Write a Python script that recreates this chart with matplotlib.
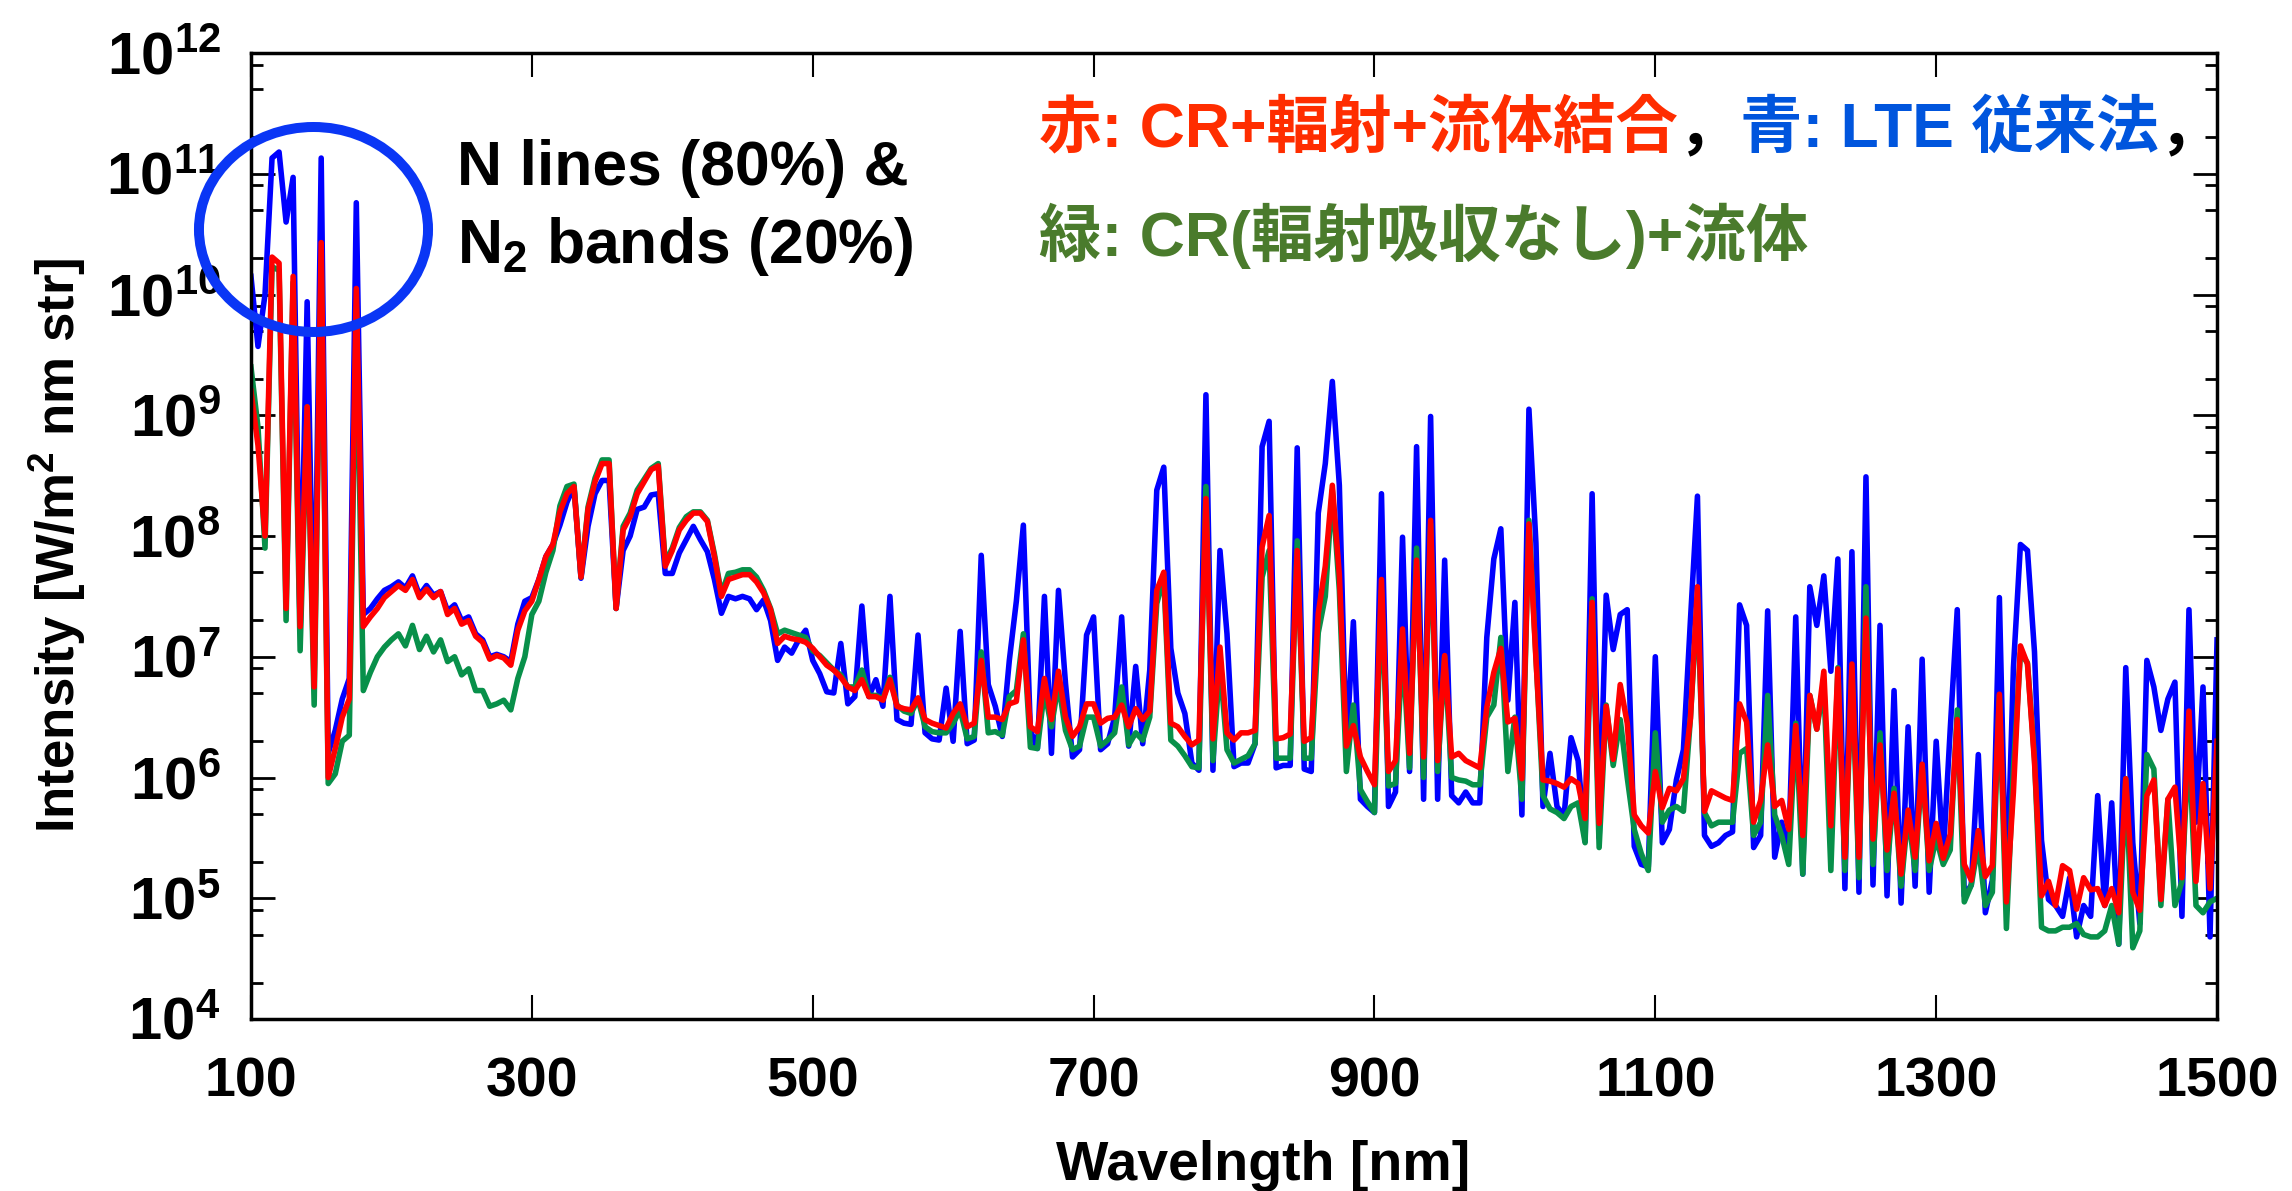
import numpy as np
import matplotlib
matplotlib.use("Agg")
import matplotlib.pyplot as plt
from matplotlib.patches import Ellipse
from matplotlib.ticker import LogLocator, NullLocator, NullFormatter, FuncFormatter

plt.rcParams['font.family'] = ['Liberation Sans', 'Noto Sans CJK JP', 'DejaVu Sans']
plt.rcParams['font.weight'] = 'bold'
plt.rcParams['mathtext.fontset'] = 'custom'
plt.rcParams['mathtext.rm'] = 'Liberation Sans:bold'
plt.rcParams['mathtext.bf'] = 'Liberation Sans:bold'
plt.rcParams['mathtext.it'] = 'Liberation Sans:bold'
plt.rcParams['mathtext.default'] = 'bf'

# wavelength grid [nm], one value every 5 nm
wavelength = np.arange(100, 1505, 5)

# log10 of intensity, 10 values (50 nm) per row
# blue: LTE (conventional)
lte_log = [
    10.15, 9.57, 10.00, 11.13, 11.18, 10.60, 10.97, 7.20, 9.94, 6.85,
    11.13, 6.20, 6.39, 6.65, 6.82, 10.76, 7.35, 7.40, 7.48, 7.55,
    7.58, 7.62, 7.57, 7.67, 7.51, 7.59, 7.51, 7.54, 7.38, 7.43,
    7.30, 7.33, 7.19, 7.14, 7.00, 7.02, 7.00, 6.96, 7.27, 7.46,
    7.49, 7.64, 7.83, 7.93, 8.09, 8.28, 8.41, 7.65, 8.08, 8.35,
    8.46, 8.46, 7.40, 7.88, 8.00, 8.22, 8.24, 8.34, 8.35, 7.69,
    7.69, 7.86, 7.97, 8.08, 7.97, 7.87, 7.64, 7.36, 7.50, 7.48,
    7.50, 7.48, 7.39, 7.47, 7.30, 6.97, 7.08, 7.03, 7.14, 7.22,
    6.97, 6.86, 6.71, 6.70, 7.11, 6.61, 6.67, 7.42, 6.67, 6.81,
    6.59, 7.50, 6.48, 6.45, 6.44, 7.18, 6.37, 6.32, 6.31, 6.74,
    6.30, 7.21, 6.28, 6.31, 7.84, 6.77, 6.59, 6.34, 6.97, 7.46,
    8.09, 6.39, 6.24, 7.50, 6.20, 7.55, 6.78, 6.17, 6.23, 7.18,
    7.33, 6.23, 6.28, 6.50, 7.33, 6.26, 6.92, 6.28, 6.89, 8.38,
    8.57, 7.07, 6.70, 6.53, 6.12, 6.06, 9.17, 6.06, 7.88, 7.19,
    6.09, 6.12, 6.12, 6.28, 8.74, 8.95, 6.08, 6.10, 6.10, 8.73,
    6.07, 6.05, 8.19, 8.60, 9.28, 8.42, 6.23, 7.29, 5.82, 5.76,
    5.71, 8.35, 5.76, 5.88, 7.99, 6.05, 8.74, 5.82, 8.99, 5.82,
    7.80, 5.85, 5.79, 5.88, 5.79, 5.79, 7.16, 7.81, 8.06, 6.64,
    7.45, 5.69, 9.05, 7.94, 5.76, 6.20, 5.76, 5.68, 6.33, 6.14,
    5.47, 8.35, 5.50, 7.51, 7.06, 7.35, 7.39, 5.43, 5.28, 5.26,
    7.00, 5.46, 5.57, 5.98, 6.23, 7.30, 8.33, 5.52, 5.43, 5.46,
    5.52, 5.55, 7.43, 7.26, 5.42, 5.52, 7.38, 5.34, 5.63, 5.40,
    7.33, 5.20, 7.58, 7.26, 7.67, 6.88, 7.81, 5.08, 7.87, 5.05,
    8.49, 5.11, 7.26, 5.02, 6.72, 4.96, 6.42, 5.10, 6.98, 5.05,
    6.30, 5.35, 6.40, 7.39, 5.02, 5.11, 6.19, 4.88, 5.15, 7.49,
    4.96, 6.91, 7.93, 7.88, 7.04, 5.48, 4.99, 4.94, 4.85, 5.17,
    4.68, 4.94, 4.85, 5.85, 4.94, 5.79, 4.62, 6.91, 5.46, 4.79,
    6.97, 6.75, 6.39, 6.65, 6.79, 4.85, 7.39, 5.63, 6.75, 4.68,
    7.14,
]

# red: CR + radiation + flow coupled
cr_log = [
    9.20, 8.75, 8.00, 10.31, 10.26, 7.40, 10.15, 7.25, 9.07, 6.75,
    10.43, 6.00, 6.24, 6.50, 6.65, 10.05, 7.25, 7.33, 7.40, 7.49,
    7.54, 7.59, 7.55, 7.64, 7.49, 7.56, 7.49, 7.54, 7.35, 7.40,
    7.27, 7.30, 7.17, 7.12, 6.98, 7.01, 6.99, 6.93, 7.22, 7.38,
    7.46, 7.64, 7.83, 7.93, 8.20, 8.35, 8.41, 7.66, 8.22, 8.45,
    8.60, 8.60, 7.40, 8.05, 8.16, 8.35, 8.45, 8.55, 8.58, 7.75,
    7.88, 8.05, 8.13, 8.19, 8.19, 8.12, 7.83, 7.50, 7.64, 7.66,
    7.68, 7.68, 7.62, 7.53, 7.39, 7.11, 7.17, 7.15, 7.14, 7.12,
    7.07, 7.00, 6.93, 6.89, 6.83, 6.75, 6.72, 6.81, 6.67, 6.67,
    6.64, 6.81, 6.59, 6.57, 6.56, 6.66, 6.48, 6.45, 6.43, 6.41,
    6.53, 6.61, 6.42, 6.45, 6.97, 6.50, 6.50, 6.48, 6.61, 6.63,
    7.14, 6.42, 6.38, 6.82, 6.48, 6.88, 6.50, 6.34, 6.42, 6.61,
    6.61, 6.45, 6.49, 6.50, 6.60, 6.42, 6.57, 6.48, 6.55, 7.55,
    7.70, 6.45, 6.42, 6.34, 6.27, 6.31, 8.31, 6.32, 7.08, 6.37,
    6.31, 6.37, 6.37, 6.39, 7.91, 8.17, 6.32, 6.33, 6.36, 7.88,
    6.30, 6.33, 7.36, 7.75, 8.42, 7.68, 6.26, 6.43, 6.17, 6.05,
    5.94, 7.64, 6.05, 6.14, 7.23, 6.20, 7.80, 6.17, 8.13, 6.14,
    7.01, 6.17, 6.20, 6.14, 6.11, 6.08, 6.58, 6.87, 7.07, 6.46,
    6.49, 5.99, 8.10, 6.98, 5.98, 5.97, 5.95, 5.92, 5.99, 5.95,
    5.66, 7.45, 5.62, 6.59, 6.15, 6.77, 6.45, 5.69, 5.60, 5.54,
    6.05, 5.75, 5.91, 5.89, 5.99, 6.49, 7.58, 5.72, 5.89, 5.86,
    5.83, 5.81, 6.61, 6.46, 5.63, 5.81, 6.27, 5.76, 5.81, 5.57,
    6.43, 5.52, 6.68, 6.40, 6.88, 5.60, 6.90, 5.34, 6.94, 5.34,
    7.32, 5.49, 6.27, 5.40, 5.87, 5.20, 5.73, 5.34, 6.11, 5.31,
    5.62, 5.33, 5.53, 6.48, 5.28, 5.15, 5.56, 5.18, 5.27, 6.69,
    4.97, 5.88, 7.09, 6.94, 6.13, 5.02, 5.14, 4.94, 5.27, 5.23,
    4.91, 5.17, 5.07, 5.08, 4.94, 5.08, 4.88, 5.99, 5.05, 4.90,
    5.85, 5.98, 4.99, 5.82, 5.92, 5.17, 6.55, 5.14, 5.95, 5.08,
    6.30,
]

# green: CR (no radiation absorption) + flow
cr_noabs_log = [
    9.40, 8.90, 7.90, 10.23, 10.20, 7.30, 10.10, 7.05, 9.07, 6.60,
    10.28, 5.95, 6.03, 6.30, 6.35, 9.89, 6.72, 6.87, 7.00, 7.08,
    7.14, 7.19, 7.09, 7.26, 7.06, 7.17, 7.04, 7.14, 6.96, 7.00,
    6.85, 6.90, 6.72, 6.72, 6.59, 6.61, 6.64, 6.56, 6.82, 7.00,
    7.35, 7.46, 7.70, 7.88, 8.25, 8.41, 8.43, 7.66, 8.24, 8.48,
    8.63, 8.63, 7.40, 8.08, 8.19, 8.38, 8.47, 8.56, 8.60, 7.78,
    7.90, 8.07, 8.16, 8.20, 8.20, 8.13, 7.85, 7.52, 7.69, 7.70,
    7.72, 7.72, 7.66, 7.55, 7.40, 7.19, 7.22, 7.20, 7.18, 7.16,
    7.05, 7.01, 6.95, 6.89, 6.85, 6.75, 6.75, 6.89, 6.68, 6.68,
    6.65, 6.83, 6.60, 6.55, 6.53, 6.65, 6.42, 6.38, 6.37, 6.37,
    6.45, 6.56, 6.32, 6.34, 7.04, 6.37, 6.38, 6.35, 6.67, 6.72,
    7.19, 6.25, 6.24, 6.72, 6.42, 6.78, 6.39, 6.23, 6.26, 6.50,
    6.50, 6.26, 6.31, 6.37, 6.75, 6.27, 6.37, 6.31, 6.50, 7.44,
    7.66, 6.31, 6.26, 6.18, 6.09, 6.08, 8.41, 6.14, 6.94, 6.23,
    6.12, 6.15, 6.18, 6.28, 7.66, 7.88, 6.16, 6.16, 6.16, 7.96,
    6.16, 6.16, 7.20, 7.50, 8.38, 7.55, 6.05, 6.60, 5.90, 5.80,
    5.71, 7.55, 5.93, 5.95, 7.10, 6.08, 7.90, 6.00, 8.10, 6.05,
    7.00, 6.00, 5.98, 5.97, 5.94, 5.94, 6.50, 6.60, 7.16, 6.05,
    6.50, 5.82, 8.13, 7.00, 5.85, 5.74, 5.71, 5.66, 5.76, 5.79,
    5.46, 7.48, 5.42, 6.60, 6.10, 6.48, 6.00, 5.57, 5.37, 5.23,
    6.37, 5.63, 5.73, 5.76, 5.72, 6.49, 7.49, 5.71, 5.60, 5.63,
    5.63, 5.63, 6.20, 6.24, 5.52, 5.63, 6.68, 5.69, 5.52, 5.28,
    6.45, 5.20, 6.68, 6.40, 6.77, 5.23, 6.91, 5.23, 6.90, 5.17,
    7.58, 5.28, 6.37, 5.23, 5.91, 5.10, 5.70, 5.23, 6.10, 5.23,
    5.50, 5.28, 5.40, 6.56, 4.97, 5.11, 5.45, 4.94, 5.05, 6.68,
    4.75, 6.07, 7.03, 6.95, 6.16, 4.76, 4.73, 4.73, 4.76, 4.76,
    4.79, 4.70, 4.68, 4.68, 4.73, 4.94, 4.62, 5.99, 4.59, 4.73,
    6.19, 6.07, 4.94, 5.82, 4.94, 5.14, 6.30, 4.94, 4.88, 4.97,
    5.00,
]

x_ticks = [100, 300, 500, 700, 900, 1100, 1300, 1500]

fig = plt.figure(figsize=(22.92, 11.91), dpi=100)
ax = fig.add_axes([0.1095, 0.1444, 0.8578, 0.8111])

ax.plot(wavelength, 10 ** np.array(lte_log), color='#0000FF', lw=4)
ax.plot(wavelength, 10 ** np.array(cr_noabs_log), color='#08904A', lw=4)
ax.plot(wavelength, 10 ** np.array(cr_log), color='#FF0000', lw=4)

ax.set_yscale('log')
ax.set_xlim(100, 1500)
ax.set_ylim(1e4, 1e12)

ax.set_xticks(x_ticks)
ax.xaxis.set_minor_locator(NullLocator())
ax.yaxis.set_major_locator(LogLocator(base=10, numticks=20))
ax.yaxis.set_minor_locator(LogLocator(base=10, subs=[2, 5, 8], numticks=20))
ax.yaxis.set_major_formatter(FuncFormatter(lambda v, p: r'$\mathbf{10^{%d}}$' % round(np.log10(v))))
ax.yaxis.set_minor_formatter(NullFormatter())

ax.tick_params(axis='both', which='both', direction='in', top=True, right=True)
ax.tick_params(axis='x', which='major', length=17, width=1.5, pad=27, labelsize=40)
ax.tick_params(axis='y', which='major', length=17, width=2, pad=22, labelsize=43)
ax.tick_params(axis='y', which='minor', length=8.6, width=2)
for s in ax.spines.values():
    s.set_linewidth(2.5)

ax.set_xlabel('Wavelngth [nm]', fontsize=40, fontweight='bold')
ax.xaxis.set_label_coords(0.515, -0.125)
ax.set_ylabel(r'Intensity [W/m$^{2}$ nm str]', fontsize=38, fontweight='bold')
ax.yaxis.set_label_coords(-0.083, 0.49)

# circle around the VUV lines
ax.add_patch(Ellipse((0.0318, 0.8173), 0.1165, 0.2122, transform=ax.transAxes,
                     fill=False, ec='#0A36F5', lw=7.2, clip_on=False, zorder=5))
ax.text(0.1046, 0.8634, 'N lines (80%) &', transform=ax.transAxes,
        fontsize=45, fontweight='bold', va='baseline', ha='left')
ax.text(0.1046, 0.7826, r'N$_{2}$ bands (20%)', transform=ax.transAxes,
        fontsize=45, fontweight='bold', va='baseline', ha='left')

# coloured legend text: Latin letters in Liberation, kanji from Noto CJK
jp = ['Liberation Sans', 'Noto Sans CJK JP', 'DejaVu Sans']
line1 = [('赤: CR+輻射+流体結合', '#FF2D00'), ('，', 'black'),
         ('青: LTE 従来法', '#0055DD'), ('，', 'black')]
t = ax.text(0.4008, 0.9203, line1[0][0], transform=ax.transAxes, color=line1[0][1],
            family=jp, fontsize=45, fontweight='bold', va='center', ha='left')
for s, c in line1[1:]:
    t = ax.annotate(s, xycoords=t, xy=(1, 0), va='bottom', ha='left', color=c,
                    family=jp, fontsize=45, fontweight='bold')
ax.text(0.4008, 0.8106, '緑: CR(輻射吸収なし)+流体', transform=ax.transAxes, color='#4A7B2C',
        family=jp, fontsize=45, fontweight='bold', va='center', ha='left')

fig.savefig('out.png', dpi=100)
